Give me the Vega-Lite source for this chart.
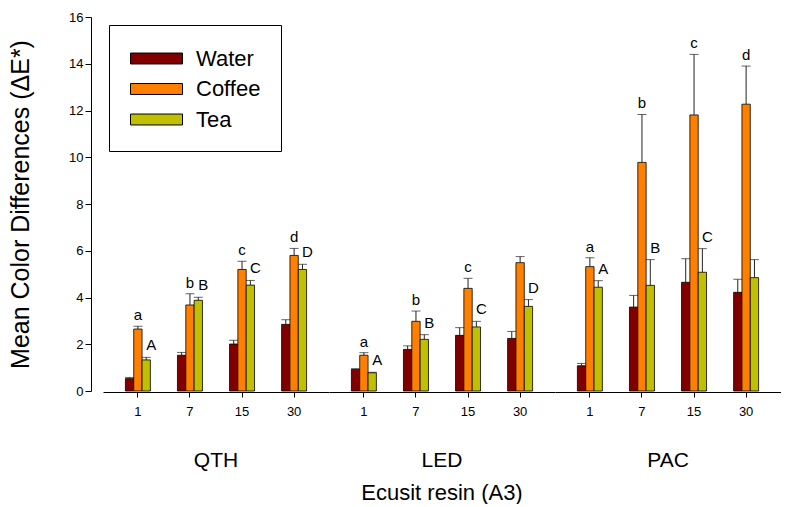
{
  "$schema": "https://vega.github.io/schema/vega-lite/v6.json",
  "padding": {"left": 8, "top": 11, "right": 0, "bottom": 0},
  "background": "white",
  "config": {
    "font": "Liberation Sans",
    "view": {"stroke": null},
    "axis": {"domainColor": "black", "tickColor": "black", "labelColor": "black", "titleColor": "black", "grid": false, "labelFont": "Liberation Sans", "titleFont": "Liberation Sans", "titleFontWeight": "normal"},
    "header": {"labelFont": "Liberation Sans", "titleFont": "Liberation Sans"}
  },
  "data": {"values": [
    {"resin": "QTH", "day": "1", "solution": "Water", "mean": 0.53, "upper": 0.58, "letter": ""},
    {"resin": "QTH", "day": "1", "solution": "Coffee", "mean": 2.65, "upper": 2.77, "letter": "a"},
    {"resin": "QTH", "day": "1", "solution": "Tea", "mean": 1.33, "upper": 1.44, "letter": "A"},
    {"resin": "QTH", "day": "7", "solution": "Water", "mean": 1.53, "upper": 1.65, "letter": ""},
    {"resin": "QTH", "day": "7", "solution": "Coffee", "mean": 3.68, "upper": 4.16, "letter": "b"},
    {"resin": "QTH", "day": "7", "solution": "Tea", "mean": 3.88, "upper": 4.01, "letter": "B"},
    {"resin": "QTH", "day": "15", "solution": "Water", "mean": 2.01, "upper": 2.17, "letter": ""},
    {"resin": "QTH", "day": "15", "solution": "Coffee", "mean": 5.2, "upper": 5.55, "letter": "c"},
    {"resin": "QTH", "day": "15", "solution": "Tea", "mean": 4.53, "upper": 4.73, "letter": "C"},
    {"resin": "QTH", "day": "30", "solution": "Water", "mean": 2.85, "upper": 3.05, "letter": ""},
    {"resin": "QTH", "day": "30", "solution": "Coffee", "mean": 5.8, "upper": 6.1, "letter": "d"},
    {"resin": "QTH", "day": "30", "solution": "Tea", "mean": 5.2, "upper": 5.42, "letter": "D"},
    {"resin": "LED", "day": "1", "solution": "Water", "mean": 0.93, "upper": 0.95, "letter": ""},
    {"resin": "LED", "day": "1", "solution": "Coffee", "mean": 1.53, "upper": 1.64, "letter": "a"},
    {"resin": "LED", "day": "1", "solution": "Tea", "mean": 0.78, "upper": 0.8, "letter": "A"},
    {"resin": "LED", "day": "7", "solution": "Water", "mean": 1.78, "upper": 1.93, "letter": ""},
    {"resin": "LED", "day": "7", "solution": "Coffee", "mean": 2.98, "upper": 3.42, "letter": "b"},
    {"resin": "LED", "day": "7", "solution": "Tea", "mean": 2.21, "upper": 2.41, "letter": "B"},
    {"resin": "LED", "day": "15", "solution": "Water", "mean": 2.38, "upper": 2.71, "letter": ""},
    {"resin": "LED", "day": "15", "solution": "Coffee", "mean": 4.39, "upper": 4.82, "letter": "c"},
    {"resin": "LED", "day": "15", "solution": "Tea", "mean": 2.74, "upper": 2.98, "letter": "C"},
    {"resin": "LED", "day": "30", "solution": "Water", "mean": 2.25, "upper": 2.55, "letter": ""},
    {"resin": "LED", "day": "30", "solution": "Coffee", "mean": 5.49, "upper": 5.75, "letter": ""},
    {"resin": "LED", "day": "30", "solution": "Tea", "mean": 3.62, "upper": 3.91, "letter": "D"},
    {"resin": "PAC", "day": "1", "solution": "Water", "mean": 1.08, "upper": 1.18, "letter": ""},
    {"resin": "PAC", "day": "1", "solution": "Coffee", "mean": 5.32, "upper": 5.7, "letter": "a"},
    {"resin": "PAC", "day": "1", "solution": "Tea", "mean": 4.44, "upper": 4.72, "letter": "A"},
    {"resin": "PAC", "day": "7", "solution": "Water", "mean": 3.59, "upper": 4.09, "letter": ""},
    {"resin": "PAC", "day": "7", "solution": "Coffee", "mean": 9.78, "upper": 11.83, "letter": "b"},
    {"resin": "PAC", "day": "7", "solution": "Tea", "mean": 4.52, "upper": 5.62, "letter": "B"},
    {"resin": "PAC", "day": "15", "solution": "Water", "mean": 4.65, "upper": 5.66, "letter": ""},
    {"resin": "PAC", "day": "15", "solution": "Coffee", "mean": 11.81, "upper": 14.4, "letter": "c"},
    {"resin": "PAC", "day": "15", "solution": "Tea", "mean": 5.08, "upper": 6.09, "letter": "C"},
    {"resin": "PAC", "day": "30", "solution": "Water", "mean": 4.22, "upper": 4.78, "letter": ""},
    {"resin": "PAC", "day": "30", "solution": "Coffee", "mean": 12.27, "upper": 13.9, "letter": "d"},
    {"resin": "PAC", "day": "30", "solution": "Tea", "mean": 4.85, "upper": 5.62, "letter": ""}
  ]},
  "facet": {
    "column": {
      "field": "resin", "type": "nominal", "sort": ["QTH", "LED", "PAC"],
      "header": {"labelOrient": "bottom", "titleOrient": "bottom", "title": "Ecusit resin (A3)", "labelFontSize": 21, "titleFontSize": 22, "titleFontWeight": "normal", "labelPadding": 32, "titlePadding": 2, "labelColor": "black", "titleColor": "black"}
    }
  },
  "spacing": 0,
  "spec": {
    "width": 226,
    "height": 374,
    "layer": [
      {
        "mark": {"type": "bar", "stroke": "black", "strokeWidth": 0.8},
        "encoding": {
          "x": {"field": "day", "type": "nominal", "sort": ["1", "7", "15", "30"], "scale": {"paddingInner": 0.52, "paddingOuter": 0.43}, "axis": {"title": null, "labelAngle": 0, "labelFontSize": 13, "tickSize": 5, "labelPadding": 8}},
          "xOffset": {"field": "solution", "type": "nominal", "sort": ["Water", "Coffee", "Tea"], "scale": {"paddingInner": 0, "paddingOuter": 0}},
          "y": {"field": "mean", "type": "quantitative", "scale": {"domain": [0, 16], "nice": false}, "axis": {"title": "Mean Color Differences (ΔE*)", "values": [0, 2, 4, 6, 8, 10, 12, 14, 16], "labelFontSize": 13, "titleFontSize": 25, "tickSize": 6, "offset": 12, "titlePadding": 35}},
          "color": {"field": "solution", "type": "nominal", "sort": ["Water", "Coffee", "Tea"], "scale": {"domain": ["Water", "Coffee", "Tea"], "range": ["#800000", "#FF8000", "#C0C000"]},
            "legend": {"title": null, "orient": "none", "legendX": 6, "legendY": 8, "symbolType": "M-2,-0.42H2V0.42H-2Z", "symbolSize": 676, "symbolOffset": 14, "symbolStrokeColor": "black", "symbolStrokeWidth": 1, "symbolOpacity": 1, "labelFontSize": 22, "labelFont": "Liberation Sans", "labelColor": "black", "labelOffset": 26, "strokeColor": "black", "fillColor": "white", "padding": 20, "rowPadding": 5.5}}
        }
      },
      {
        "mark": {"type": "rule", "color": "#222222", "strokeWidth": 1},
        "encoding": {
          "x": {"field": "day", "type": "nominal", "sort": ["1", "7", "15", "30"]},
          "xOffset": {"field": "solution", "type": "nominal", "sort": ["Water", "Coffee", "Tea"]},
          "y": {"field": "mean", "type": "quantitative"},
          "y2": {"field": "upper"}
        }
      },
      {
        "mark": {"type": "tick", "color": "#222222", "thickness": 1, "size": 9, "orient": "horizontal"},
        "encoding": {
          "x": {"field": "day", "type": "nominal", "sort": ["1", "7", "15", "30"]},
          "xOffset": {"field": "solution", "type": "nominal", "sort": ["Water", "Coffee", "Tea"]},
          "y": {"field": "upper", "type": "quantitative"}
        }
      },
      {
        "transform": [{"filter": "datum.solution === 'Coffee'"}],
        "mark": {"type": "text", "fontSize": 15, "baseline": "bottom", "dy": -3, "color": "black"},
        "encoding": {
          "x": {"field": "day", "type": "nominal", "sort": ["1", "7", "15", "30"]},
          "xOffset": {"field": "solution", "type": "nominal", "sort": ["Water", "Coffee", "Tea"]},
          "y": {"field": "upper", "type": "quantitative"},
          "text": {"field": "letter"}
        }
      },
      {
        "transform": [{"filter": "datum.solution === 'Tea'"}],
        "mark": {"type": "text", "fontSize": 15, "baseline": "bottom", "dy": -4, "dx": 5, "color": "black"},
        "encoding": {
          "x": {"field": "day", "type": "nominal", "sort": ["1", "7", "15", "30"]},
          "xOffset": {"field": "solution", "type": "nominal", "sort": ["Water", "Coffee", "Tea"]},
          "y": {"field": "upper", "type": "quantitative"},
          "text": {"field": "letter"}
        }
      }
    ]
  }
}
